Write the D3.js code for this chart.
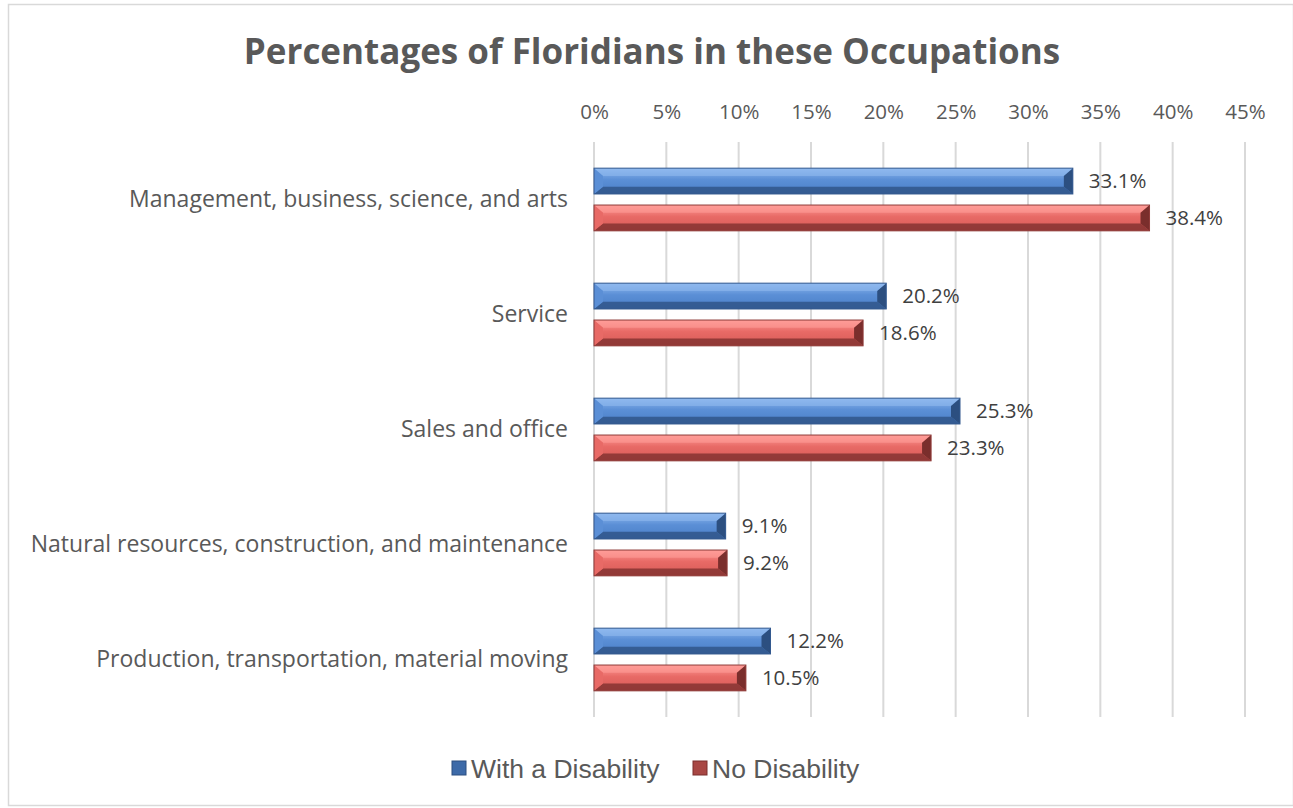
<!DOCTYPE html>
<html>
<head>
<meta charset="utf-8">
<script src="https://cdn.jsdelivr.net/npm/d3@7"></script>
<style>
  body { margin: 0; background: #fff; }
  svg { display: block; }
</style>
</head>
<body>
<div id="chart"></div>
<script>
const categories = [
  'Management, business, science, and arts',
  'Service',
  'Sales and office',
  'Natural resources, construction, and maintenance',
  'Production, transportation, material moving'
];
const seriesNames = ['With a Disability', 'No Disability'];
const withDisability = [33.1, 20.2, 25.3, 9.1, 12.2];
const noDisability = [38.4, 18.6, 23.3, 9.2, 10.5];
const xTicks = [0, 5, 10, 15, 20, 25, 30, 35, 40, 45];

const width = 1293;
const height = 808;
const margin = {top: 142, right: 48, bottom: 91, left: 594};
const plotW = width - margin.left - margin.right;
const plotH = height - margin.top - margin.bottom;
const font = '"Open Sans", Lato, sans-serif';

const palettes = [
  {light: '#8fb9ef', mid: '#5b8fd6', face: '#4a7fc7', dark: '#2c4f80', side: '#3d6aa8', edge: '#34598f'},
  {light: '#ff9c98', mid: '#e86a66', face: '#d65b57', dark: '#7a2e2c', side: '#a84744', edge: '#8e3b39'}
];

const svg = d3.select('#chart')
    .append('svg')
    .attr('width', width)
    .attr('height', height);

const defs = svg.append('defs');
palettes.forEach((p, i) => {
  const g = defs.append('linearGradient')
      .attr('id', 'face' + i)
      .attr('x1', 0).attr('y1', 0).attr('x2', 0).attr('y2', 1);
  g.append('stop').attr('offset', '0%').attr('stop-color', p.light);
  g.append('stop').attr('offset', '45%').attr('stop-color', p.mid);
  g.append('stop').attr('offset', '100%').attr('stop-color', p.face);
});

svg.append('rect')
    .attr('x', 8.5).attr('y', 4.5)
    .attr('width', width - 8).attr('height', 801)
    .attr('fill', '#fff')
    .attr('stroke', '#d9d9d9')
    .attr('stroke-width', 1.5);

svg.append('text')
    .attr('x', 652)
    .attr('y', 64)
    .attr('text-anchor', 'middle')
    .attr('font-family', font)
    .attr('font-weight', 'bold')
    .attr('font-size', '35px')
    .attr('fill', '#595959')
    .text('Percentages of Floridians in these Occupations');

const chart = svg.append('g')
    .attr('transform', `translate(${margin.left},${margin.top})`);

const x = d3.scaleLinear().domain([0, 45]).range([0, plotW]);
const y0 = d3.scaleBand().domain(categories).range([0, plotH]).paddingInner(0.455).paddingOuter(0.2275);
const y1 = d3.scaleBand().domain(seriesNames).range([0, y0.bandwidth()]).paddingInner(0.3);

chart.append('g')
    .selectAll('line')
    .data(xTicks)
    .enter().append('line')
    .attr('x1', d => x(d)).attr('x2', d => x(d))
    .attr('y1', 0).attr('y2', plotH)
    .attr('stroke', '#d9d9d9')
    .attr('stroke-width', 2);

const xAxis = chart.append('g')
    .call(d3.axisTop(x).tickValues(xTicks).tickFormat(d => d + '%').tickSize(0).tickPadding(23));
xAxis.select('.domain').remove();
xAxis.selectAll('text')
    .attr('font-family', font)
    .attr('font-size', '20.5px')
    .attr('fill', '#595959');

const yAxis = chart.append('g')
    .call(d3.axisLeft(y0).tickSize(0).tickPadding(26));
yAxis.select('.domain').remove();
yAxis.selectAll('text')
    .attr('font-family', font)
    .attr('font-size', '23px')
    .attr('fill', '#595959');

const rows = [];
categories.forEach((c, i) => {
  rows.push({cat: c, s: 0, v: withDisability[i]});
  rows.push({cat: c, s: 1, v: noDisability[i]});
});

const bars = chart.selectAll('.bar')
    .data(rows)
    .enter().append('g')
    .attr('class', 'bar')
    .attr('transform', d => `translate(0,${y0(d.cat) + y1(seriesNames[d.s])})`);

const bh = y1.bandwidth();
const bev = 9;

bars.append('rect')
    .attr('width', d => x(d.v))
    .attr('height', bh)
    .attr('fill', d => `url(#face${d.s})`);

// bevel pieces
bars.append('path')
    .attr('d', d => { const w = x(d.v); return `M0,0 L${w},0 L${w - bev},${bh * 0.3} L${bev},${bh * 0.3} Z`; })
    .attr('fill', d => palettes[d.s].light)
    .attr('opacity', 0.6);
bars.append('path')
    .attr('d', d => { const w = x(d.v); return `M0,${bh} L${w},${bh} L${w - bev},${bh * 0.72} L${bev},${bh * 0.72} Z`; })
    .attr('fill', d => palettes[d.s].dark)
    .attr('opacity', 0.75);
bars.append('path')
    .attr('d', `M0,0 L${bev},${bh * 0.3} L${bev},${bh * 0.72} L0,${bh} Z`)
    .attr('fill', d => palettes[d.s].mid);
bars.append('path')
    .attr('d', d => { const w = x(d.v); return `M${w},0 L${w - bev},${bh * 0.3} L${w - bev},${bh * 0.72} L${w},${bh} Z`; })
    .attr('fill', d => palettes[d.s].dark);
bars.append('rect')
    .attr('width', d => x(d.v))
    .attr('height', bh)
    .attr('fill', 'none')
    .attr('stroke', d => palettes[d.s].edge)
    .attr('stroke-width', 1);

bars.append('text')
    .attr('x', d => x(d.v) + 16)
    .attr('y', bh / 2)
    .attr('dy', '0.36em')
    .attr('font-family', font)
    .attr('font-size', '20.5px')
    .attr('fill', '#404040')
    .text(d => d.v.toFixed(1) + '%');

const legend = svg.selectAll('.legend')
    .data(seriesNames)
    .enter().append('g')
    .attr('class', 'legend')
    .attr('transform', (d, i) => `translate(${i === 0 ? 452 : 693},761)`);

legend.append('rect')
    .attr('width', 14).attr('height', 14)
    .attr('fill', (d, i) => palettes[i].side)
    .attr('stroke', (d, i) => palettes[i].dark)
    .attr('stroke-width', 1);

legend.append('text')
    .attr('x', 19)
    .attr('y', 7)
    .attr('dy', '0.36em')
    .attr('font-family', '"Liberation Sans", Arial, sans-serif')
    .attr('font-size', '26.5px')
    .attr('fill', '#595959')
    .text(d => d);
</script>
</body>
</html>
